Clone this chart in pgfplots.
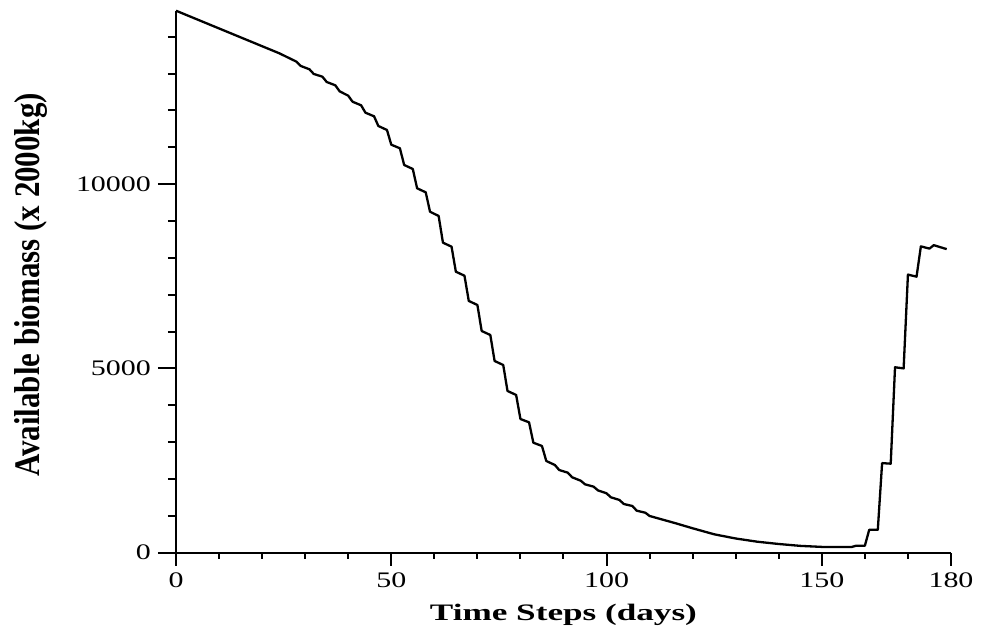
\documentclass[border=0pt]{standalone}
\usepackage{pgfplots}
\pgfplotsset{compat=1.18}
\usepackage{fontspec}
\setmainfont{Liberation Serif}
\newfontfamily\tickfont[FakeStretch=1.35]{Liberation Serif}
\newfontfamily\xlabfont[FakeStretch=1.49]{Liberation Serif}
\newfontfamily\ylabfont[FakeStretch=0.86]{Liberation Serif}

\pgfplotstableread{
day biomass
0 14704
24 13548
28 13320
29 13204
31 13114
32 12987
34 12914
35 12770
37 12680
38 12517
40 12398
41 12235
43 12137
44 11937
46 11839
47 11576
49 11468
50 11069
52 10971
53 10518
55 10410
56 9886
58 9777
59 9251
61 9135
62 8411
64 8302
65 7623
67 7515
68 6830
70 6720
71 6015
73 5906
74 5201
76 5092
77 4387
79 4279
80 3627
82 3537
83 2984
85 2895
86 2488
88 2379
89 2243
91 2171
92 2046
94 1953
95 1855
97 1791
98 1690
100 1611
101 1503
103 1430
104 1321
106 1267
107 1140
109 1085
110 996
116 800
120 662
125 499
130 385
135 298
140 236
145 185
150 157
157 157
158 190
160 190
161 620
163 620
164 2430
166 2415
167 5030
169 5000
170 7545
172 7488
173 8310
175 8250
176 8343
179 8235
}\biomass

\pgfplotsset{myax/.style={
  width=387.5pt, height=271pt, scale only axis,
  xmin=0, xmax=180, ymin=0, ymax=14704,
  at={(0,0)}, anchor=south west,
  tick align=outside,
  scaled ticks=false,
  axis line style={line width=1.1pt, black},
  tick style={line width=1pt, black},
  clip=false,
  /pgf/number format/assume math mode=true,
}}

\begin{document}
\begin{tikzpicture}
\begin{axis}[myax,
  hide y axis, axis x line*=bottom,
  xtick={0,50,100,150,180},
  xticklabels={0,50,100,150,180},
  minor xtick={10,20,30,40,60,70,80,90,110,120,130,140,160,170},
  major tick length=6.5pt, minor tick length=3pt,
  xticklabel style={font=\tickfont\fontsize{11.1}{13}\selectfont},
  xlabel={Time Steps (days)},
  xlabel style={font=\xlabfont\bfseries\fontsize{11.8}{14}\selectfont,
    at={(axis description cs:0.5,-0.1242)}, anchor=base},
]
\addplot[black, line width=1.15pt, line join=round] table[x=day, y=biomass] {\biomass};
\end{axis}
\begin{axis}[myax,
  hide x axis, axis y line*=left,
  ytick={0,5000,10000},
  yticklabels={0,5000,10000},
  minor ytick={1000,2000,3000,4000,6000,7000,8000,9000,11000,12000,13000,14000},
  major tick length=9pt, minor tick length=4pt,
  yticklabel style={font=\tickfont\fontsize{11.1}{13}\selectfont},
  ylabel={Available biomass (x 2000kg)},
  ylabel style={font=\ylabfont\bfseries\fontsize{18}{20}\selectfont,
    at={(axis description cs:-0.187,0.494)}, anchor=center},
]
\end{axis}
\pgfresetboundingbox
\path[use as bounding box] (-88pt,-39.15pt) rectangle (403pt,276.35pt);
\end{tikzpicture}
\end{document}
